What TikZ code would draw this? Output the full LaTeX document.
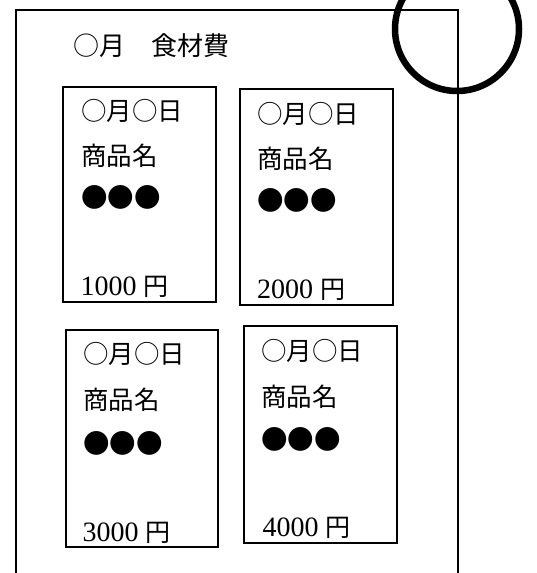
\documentclass[tikz,border=0pt]{standalone}
\usepackage{fontspec}
\newfontfamily\jp{Noto Sans CJK JP}
\newfontfamily\numf{Liberation Serif}
\begin{document}
\begin{tikzpicture}[x=1pt,y=-1pt,
  frame/.style={draw, line width=1.2pt, inner sep=0pt, rectangle},
  card/.style={draw, line width=1.6pt, inner sep=0pt, rectangle},
  stamp/.style={draw, line width=6.5pt, circle, inner sep=0pt, minimum size=124pt},
  ttxt/.style={anchor=base west, inner sep=0pt, font=\jp\fontsize{26}{26}\selectfont},
  jtxt/.style={anchor=base west, inner sep=0pt, font=\jp\fontsize{25.5}{25.5}\selectfont},
  dots/.style={anchor=base west, inner sep=0pt, font=\jp\fontsize{26.5}{26.5}\selectfont},
  price/.style={anchor=base west, inner sep=0pt, font=\numf\fontsize{28}{28}\selectfont}
]
\useasboundingbox (0,0) rectangle (536,573);
% outer sheet
\node[frame, minimum width=442pt, minimum height=590pt] (sheet) at (237,305) {};
% stamp circle
\node[stamp] (stampc) at (457,29) {};
% title
\node[ttxt] (title) at (73,55.5) {○月　食材費};
% cards
\node[card, minimum width=153pt, minimum height=215pt] (c1) at (139.5,194.5) {};
\node[card, minimum width=153pt, minimum height=216pt] (c2) at (316.5,197) {};
\node[card, minimum width=152pt, minimum height=217pt] (c3) at (142,438.5) {};
\node[card, minimum width=153pt, minimum height=217pt] (c4) at (320.5,434.5) {};
% card 1
\node[jtxt] (d1) at (81,120) {○月○日};
\node[jtxt] (n1) at (81,165) {商品名};
\node[dots] (b1) at (81,207) {●●●};
\node[price] (p1) at (80.5,295) {1000 {\jp\fontsize{25}{25}\selectfont 円}};
% card 2
\node[jtxt] (d2) at (257,123) {○月○日};
\node[jtxt] (n2) at (257,168) {商品名};
\node[dots] (b2) at (257,210) {●●●};
\node[price] (p2) at (257,298) {2000 {\jp\fontsize{25}{25}\selectfont 円}};
% card 3
\node[jtxt] (d3) at (83,363) {○月○日};
\node[jtxt] (n3) at (83,409) {商品名};
\node[dots] (b3) at (83,453) {●●●};
\node[price] (p3) at (82.5,541) {3000 {\jp\fontsize{25}{25}\selectfont 円}};
% card 4
\node[jtxt] (d4) at (261,360) {○月○日};
\node[jtxt] (n4) at (261,406) {商品名};
\node[dots] (b4) at (261,449) {●●●};
\node[price] (p4) at (262.5,536) {4000 {\jp\fontsize{25}{25}\selectfont 円}};
\end{tikzpicture}
\end{document}
